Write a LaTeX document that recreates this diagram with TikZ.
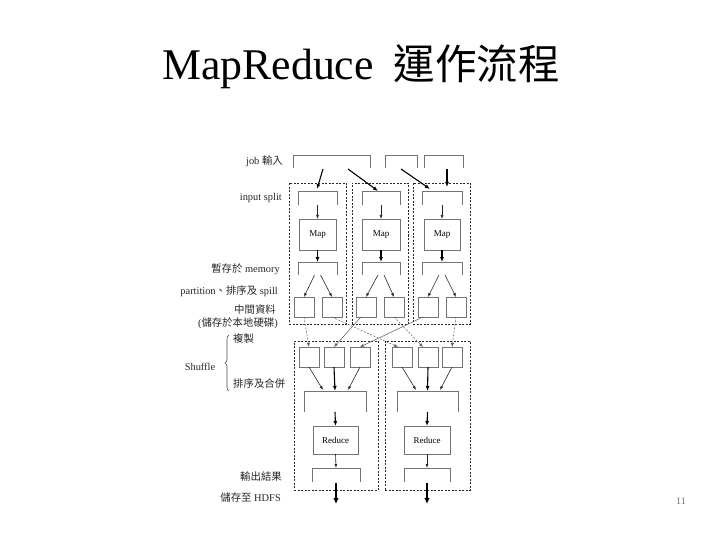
\documentclass[tikz,border=0pt]{standalone}
\usepackage{fontspec}
\setmainfont{Liberation Serif}
\newfontfamily\cjk{Noto Sans CJK TC}
\usetikzlibrary{arrows.meta,decorations.pathreplacing}

\tikzset{
 closedbox/.style={draw=black!55, line width=0.6pt, inner sep=0pt, outer sep=0pt, font=\fontsize{9}{10}\selectfont},
 ghost/.style={inner sep=0pt, outer sep=0pt},
 ctr/.style={draw=black!85, dash pattern=on 2pt off 1.5pt, line width=0.6pt, inner sep=0pt, outer sep=0pt},
 edge/.style={draw=black!55, line width=0.7pt},
 arr/.style={-{Latex[length=4pt,width=3pt]}, line width=0.6pt, black!85},
 barr/.style={-{Latex[length=5pt,width=4pt]}, line width=1.1pt, black},
 harr/.style={-{Latex[length=6pt,width=5.5pt]}, line width=2.2pt, black},
 sarr/.style={-{Latex[length=4pt,width=3pt]}, line width=0.5pt, black!65},
 sdarr/.style={sarr, dash pattern=on 2pt off 1.5pt},
 lab/.style={font=\fontsize{10.4}{12}\selectfont, text=black!85, inner sep=0pt},
}
\newcommand{\opentop}[1]{\draw[edge] (#1.south west) |- (#1.north east) -- (#1.south east);}

\begin{document}
\begin{tikzpicture}[x=1pt,y=-1pt]
\useasboundingbox (0,0) rectangle (720,540);

% title
\node[anchor=base west, inner sep=0pt] (title) at (162,80)
  {\fontsize{43.8}{48}\selectfont MapReduce\hspace{0.45em}{\cjk\fontsize{41.5}{48}\selectfont 運作流程}};
\node[anchor=base, inner sep=0pt, text=black!55, font=\fontsize{10}{12}\selectfont] (pnum) at (681,504) {11};

% containers
\node[ctr, minimum width=57pt, minimum height=141pt] (mc1) at (317.5,253.5) {};
\node[ctr, minimum width=56pt, minimum height=141pt] (mc2) at (380,253.5) {};
\node[ctr, minimum width=57pt, minimum height=141pt] (mc3) at (441.5,253.5) {};
\node[ctr, minimum width=84pt, minimum height=149pt] (rc1) at (336,415.5) {};
\node[ctr, minimum width=85pt, minimum height=149pt] (rc2) at (427.5,415.5) {};

% job input
\node[ghost, minimum width=77pt, minimum height=13pt] (jobA) at (331.5,161.5) {};
\node[ghost, minimum width=32pt, minimum height=13pt] (jobB) at (401,161.5) {};
\node[ghost, minimum width=39pt, minimum height=13pt] (jobC) at (443.5,161.5) {};
% splits
\node[ghost, minimum width=39pt, minimum height=14pt] (s1) at (317.5,198) {};
\node[ghost, minimum width=38pt, minimum height=14pt] (s2) at (381,198) {};
\node[ghost, minimum width=40pt, minimum height=14pt] (s3) at (442,198) {};
% maps
\node[closedbox, minimum width=37pt, minimum height=31pt] (m1) at (317.5,234.5) {Map};
\node[closedbox, minimum width=38pt, minimum height=31pt] (m2) at (381,234.5) {Map};
\node[closedbox, minimum width=36pt, minimum height=31pt] (m3) at (442,234.5) {Map};
% memory
\node[ghost, minimum width=39pt, minimum height=13pt] (mem1) at (317.5,268.5) {};
\node[ghost, minimum width=38pt, minimum height=13pt] (mem2) at (381,268.5) {};
\node[ghost, minimum width=40pt, minimum height=13pt] (mem3) at (442,268.5) {};
% intermediate
\foreach \n/\x in {i1a/304,i1b/332,i2a/366,i2b/394,i3a/428,i3b/456}
  \node[closedbox, minimum width=20pt, minimum height=20pt] (\n) at (\x,307) {};
% shuffle
\foreach \n/\x in {L1/309,L2/334,L3/360,R1/402,R2/428,R3/452}
  \node[closedbox, minimum width=20pt, minimum height=20pt] (\n) at (\x,357) {};
% merge
\node[ghost, minimum width=62pt, minimum height=21pt] (g1) at (335,401.5) {};
\node[ghost, minimum width=61pt, minimum height=21pt] (g2) at (427.5,401.5) {};
% reduce
\node[closedbox, minimum width=45pt, minimum height=28pt] (r1) at (335.5,440) {Reduce};
\node[closedbox, minimum width=46pt, minimum height=28pt] (r2) at (427,440) {Reduce};
% output
\node[ghost, minimum width=48pt, minimum height=14pt] (o1) at (336,475) {};
\node[ghost, minimum width=46pt, minimum height=14pt] (o2) at (427,475) {};
\coordinate (h1) at (336,504);
\coordinate (h2) at (427,504);

\foreach \b in {jobA,jobB,jobC,s1,s2,s3,mem1,mem2,mem3,g1,g2,o1,o2} {\opentop{\b}}

% job -> split
\draw[barr] ([xshift=-8.5pt,yshift=-1pt]jobA.south) -- ([xshift=-0.5pt,yshift=2pt]s1.north);
\draw[barr] ([xshift=16.5pt,yshift=-1pt]jobA.south) -- ([xshift=-3pt,yshift=0pt]s2.north);
\draw[barr] ([yshift=-1pt]jobB.south) -- ([xshift=-12pt,yshift=2pt]s3.north);
\draw[barr] ([xshift=3.5pt,yshift=-1pt]jobC.south) -- ([xshift=5pt,yshift=4pt]s3.north);

% split -> map -> memory
\foreach \i in {1,2,3} {
  \draw[arr] (s\i.south) -- (m\i.north);
  \draw[barr] (m\i.south) -- (mem\i.north);
}
% memory -> intermediate
\draw[arr] ([xshift=-3pt]mem1.south) -- (i1a.north);
\draw[arr] ([xshift=3pt]mem1.south) -- (i1b.north);
\draw[arr] ([xshift=-3pt]mem2.south) -- (i2a.north);
\draw[arr] ([xshift=3pt]mem2.south) -- (i2b.north);
\draw[arr] ([xshift=-3pt]mem3.south) -- (i3a.north);
\draw[arr] ([xshift=3pt]mem3.south) -- (i3b.north);

% intermediate -> shuffle
\draw[sdarr] (i1a.south) -- (L1.north);
\draw[sarr] ([xshift=-5pt]i2a.south) -- (L2.north);
\draw[sdarr] (i1b.south) -- ([xshift=-4pt]R1.north);
\draw[sarr] ([xshift=-5pt]i3a.south) -- (L3.north);
\draw[sdarr] (i2b.south) -- ([xshift=-5pt]R2.north);
\draw[sdarr] (i3b.south) -- (R3.north);

% shuffle -> merge
\draw[arr] (L1.south) -- ([xshift=-12pt,yshift=1pt]g1.north);
\draw[barr] (L2.south) -- (g1.north);
\draw[arr] (L3.south) -- ([xshift=13pt,yshift=1pt]g1.north);
\draw[arr] (R1.south) -- ([xshift=-11.5pt,yshift=1pt]g2.north);
\draw[barr] (R2.south) -- (g2.north);
\draw[arr] (R3.south) -- ([xshift=12.5pt,yshift=1pt]g2.north);

% merge -> reduce -> output -> HDFS
\draw[barr] (g1.south) -- (r1.north);
\draw[barr] (g2.south) -- (r2.north);
\draw[arr] (r1.south) -- (o1.north);
\draw[arr] (r2.south) -- (o2.north);
\draw[harr] ([yshift=-1pt]o1.south) -- (h1);
\draw[harr] ([yshift=-1pt]o2.south) -- (h2);

% labels
\node[lab, anchor=east] (l1) at (283,161) {job {\cjk 輸入}};
\node[lab, anchor=east] (l2) at (282,198) {input split};
\node[lab, anchor=east] (l3) at (280,269) {{\cjk 暫存於} memory};
\node[lab, anchor=east] (l4) at (278,291) {partition{\cjk 、排序及} spill};
\node[lab, anchor=east] (l5) at (276,310) {{\cjk 中間資料}};
\node[lab, anchor=east] (l6) at (278,323) {({\cjk 儲存於本地硬碟})};
\node[lab, anchor=west] (l7) at (233,339) {{\cjk 複製}};
\node[lab] (l8) at (200,367) {Shuffle};
\node[lab, anchor=west] (l9) at (233,384) {{\cjk 排序及合併}};
\node[lab, anchor=east] (l10) at (282,477) {{\cjk 輸出結果}};
\node[lab, anchor=east] (l11) at (281,498) {{\cjk 儲存至} HDFS};
\draw[black!70, line width=0.6pt, decorate, decoration={brace, amplitude=4pt}] (229,391) -- (229,335);

\end{tikzpicture}
\end{document}
